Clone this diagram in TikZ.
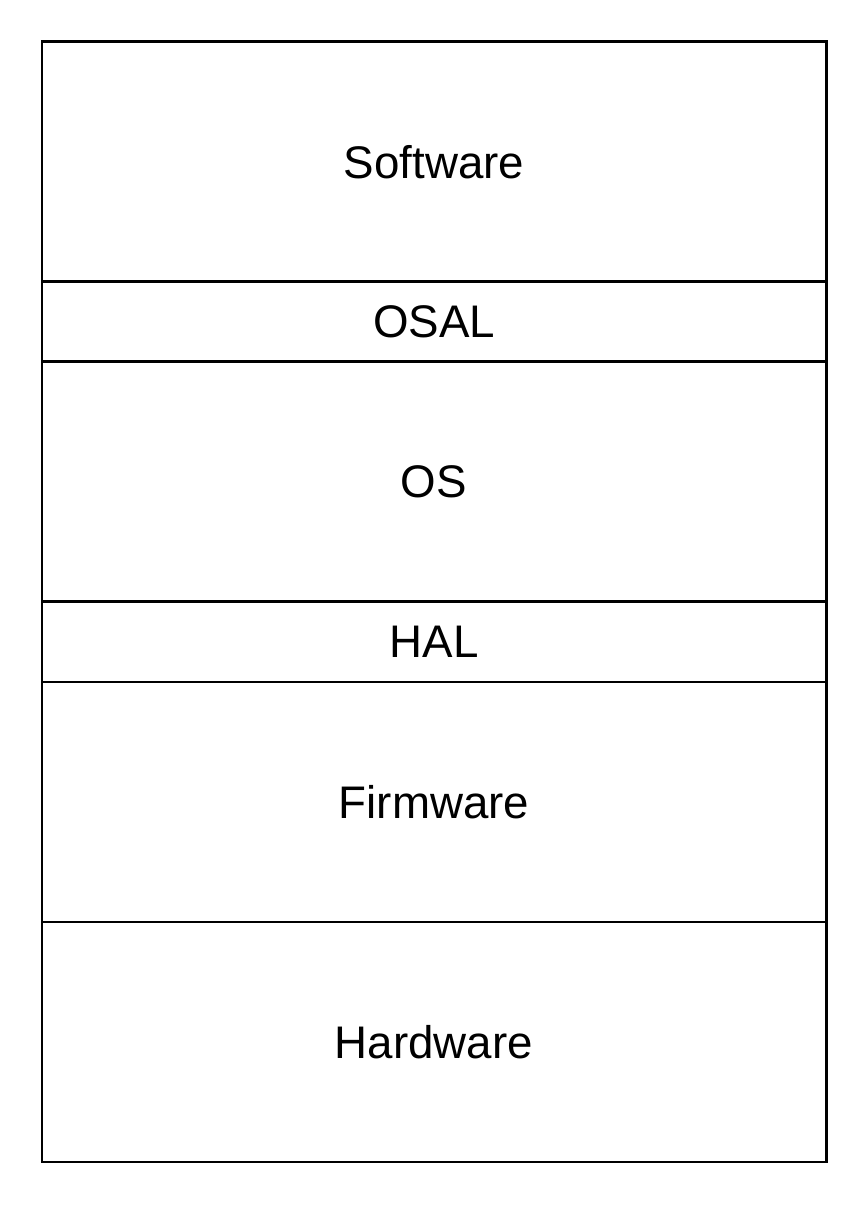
\documentclass[tikz,border=0pt]{standalone}
\usepackage{fontspec}
\setmainfont{Liberation Sans}
\usetikzlibrary{positioning}
\tikzset{
  layer/.style={draw, line width=1.7pt, outer sep=0pt, minimum width=15.68cm, font=\fontsize{26}{30}\selectfont},
  thick layer/.style={layer, minimum height=4.8cm},
  thin layer/.style={layer, minimum height=1.6cm}
}

\begin{document}
\begin{tikzpicture}
% Fix the page size with its white margins
\useasboundingbox[fill=white] (0,0) rectangle (17.36,24.16);

% Stack the layers from top to bottom
\node[thick layer, anchor=north west] (software) at (0.84,23.32) {Software};
\node[thin layer, below=0pt of software] (osal) {OSAL};
\node[thick layer, below=0pt of osal] (os) {OS};
\node[thin layer, below=0pt of os] (hal) {HAL};
\node[thick layer, below=0pt of hal] (firmware) {Firmware};
\node[thick layer, below=0pt of firmware] (hardware) {Hardware};
\end{tikzpicture}
\end{document}
